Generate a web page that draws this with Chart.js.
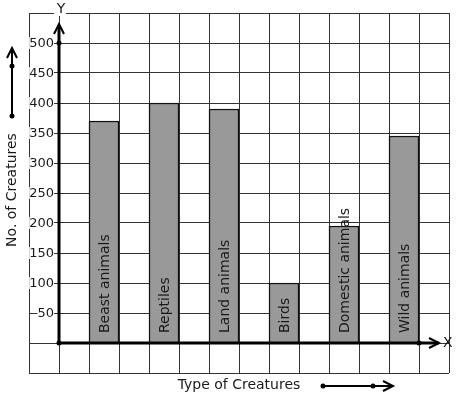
<!DOCTYPE html>
<html>
<head>
<meta charset="utf-8">
<script src="https://cdn.jsdelivr.net/npm/chart.js@4.4.1/dist/chart.umd.min.js"></script>
<style>
  html, body { margin: 0; padding: 0; background: #fff; }
  canvas { display: block; }
</style>
</head>
<body>
<canvas id="chart" width="457" height="399"></canvas>
<script>
// Values
const categories = ["Beast animals", "Reptiles", "Land animals", "Birds", "Domestic animals", "Wild animals"];
const counts = [370, 400, 390, 100, 195, 345];
const yTickLabels = [50, 100, 150, 200, 250, 300, 350, 400, 450, 500];
const xTitle = "Type of Creatures";
const yTitle = "No. of Creatures";

// The graph paper has 14 columns; y axis sits after the first one,
// bars occupy every other column starting at column 2.
const CELL_COUNT = 14;
const cellIndex = (i) => 2 + i * 2;

const cellLabels = Array.from({ length: CELL_COUNT }, () => "");
const cellValues = Array.from({ length: CELL_COUNT }, () => null);
counts.forEach((v, i) => { cellValues[cellIndex(i)] = v; });

const TICK_FONT = "13px 'DejaVu Sans', sans-serif";
const FONT = "14px 'DejaVu Sans', sans-serif";
const INK = "#1a1a1a";

function dot(ctx, x, y, r = 2.5) {
  ctx.beginPath();
  ctx.arc(x, y, r, 0, Math.PI * 2);
  ctx.fill();
}

function chevron(ctx, x, y, dir) {
  // open arrow head pointing up ("up") or right ("right")
  ctx.beginPath();
  if (dir === "up") {
    ctx.moveTo(x - 5, y + 10);
    ctx.lineTo(x, y);
    ctx.lineTo(x + 5, y + 10);
  } else {
    ctx.moveTo(x - 10, y - 5);
    ctx.lineTo(x, y);
    ctx.lineTo(x - 10, y + 5);
  }
  ctx.stroke();
}

const decorations = {
  id: "decorations",
  afterDatasetsDraw(chart) {
    const { ctx, scales: { x, y }, chartArea } = chart;
    const x0 = (x.getPixelForValue(0) + x.getPixelForValue(1)) / 2;
    const y0 = y.getPixelForValue(0);
    const xEnd = (x.getPixelForValue(CELL_COUNT - 2) + x.getPixelForValue(CELL_COUNT - 1)) / 2;
    ctx.save();
    ctx.font = TICK_FONT;
    ctx.fillStyle = INK;
    ctx.strokeStyle = "#000";

    // tick labels with white backing over the grid
    ctx.textAlign = "right";
    ctx.textBaseline = "middle";
    yTickLabels.forEach((v) => {
      const py = y.getPixelForValue(v);
      const w = ctx.measureText(String(v)).width;
      ctx.fillStyle = "#fff";
      ctx.fillRect(x0 - 5 - w, py - 6, w, 12);
      ctx.fillStyle = INK;
      ctx.fillText(String(v), x0 - 5, py + 1);
    });

    // thick axes
    ctx.lineWidth = 3;
    ctx.beginPath();
    ctx.moveTo(x0, y0);
    ctx.lineTo(x0, chartArea.top + 12);
    ctx.moveTo(x0, y0);
    ctx.lineTo(chartArea.right - 10, y0);
    ctx.stroke();
    ctx.lineWidth = 2;
    chevron(ctx, x0, chartArea.top + 11, "up");
    chevron(ctx, chartArea.right - 10, y0, "right");
    ctx.fillStyle = "#000";
    dot(ctx, x0, y0);
    dot(ctx, x0, y.getPixelForValue(500));
    dot(ctx, xEnd, y0);

    // axis letters
    ctx.font = FONT;
    ctx.fillStyle = "#fff";
    ctx.fillRect(x0 - 5, chartArea.top - 3, 12, 6);
    ctx.fillStyle = INK;
    ctx.textAlign = "center";
    ctx.fillText("Y", x0 + 2, chartArea.top - 4);
    ctx.textAlign = "left";
    ctx.fillText("X", chartArea.right - 6, y0);

    // rotated category names inside the bars
    categories.forEach((name, i) => {
      const px = x.getPixelForValue(cellIndex(i));
      ctx.save();
      ctx.translate(px + 1, y0 - 10);
      ctx.rotate(-Math.PI / 2);
      ctx.textAlign = "left";
      ctx.textBaseline = "middle";
      ctx.fillText(name, 0, 0);
      ctx.restore();
    });

    // y title with arrow
    ctx.save();
    ctx.translate(12, 190);
    ctx.rotate(-Math.PI / 2);
    ctx.textAlign = "center";
    ctx.textBaseline = "middle";
    ctx.fillText(yTitle, 0, 0);
    ctx.restore();
    ctx.lineWidth = 2;
    ctx.beginPath();
    ctx.moveTo(12, 116);
    ctx.lineTo(12, 49);
    ctx.stroke();
    chevron(ctx, 12, 48, "up");
    ctx.fillStyle = "#000";
    dot(ctx, 12, 116);
    dot(ctx, 12, 66);

    // x title with arrow
    ctx.fillStyle = INK;
    ctx.textAlign = "center";
    ctx.textBaseline = "middle";
    ctx.fillText(xTitle, 239, 385);
    ctx.beginPath();
    ctx.moveTo(323, 386);
    ctx.lineTo(392, 386);
    ctx.stroke();
    chevron(ctx, 393, 386, "right");
    ctx.fillStyle = "#000";
    dot(ctx, 323, 386);
    dot(ctx, 373, 386);

    ctx.restore();
  },
};

new Chart(document.getElementById("chart"), {
  type: "bar",
  data: {
    labels: cellLabels,
    datasets: [
      {
        data: cellValues,
        backgroundColor: "#999999",
        borderColor: "#111",
        borderWidth: 1.5,
        barPercentage: 1,
        categoryPercentage: 1,
      },
    ],
  },
  options: {
    responsive: false,
    animation: false,
    events: [],
    layout: { padding: { left: 29, top: 13, right: 8, bottom: 26 } },
    plugins: { legend: { display: false }, tooltip: { enabled: false } },
    scales: {
      x: {
        type: "category",
        offset: true,
        grid: { offset: true, color: "#333", lineWidth: 1, drawTicks: false },
        border: { display: false },
        ticks: { display: false },
      },
      y: {
        min: -50,
        max: 550,
        ticks: { display: false, stepSize: 50 },
        grid: { color: "#333", lineWidth: 1, drawTicks: false },
        border: { display: false },
      },
    },
  },
  plugins: [decorations],
});
</script>
</body>
</html>
